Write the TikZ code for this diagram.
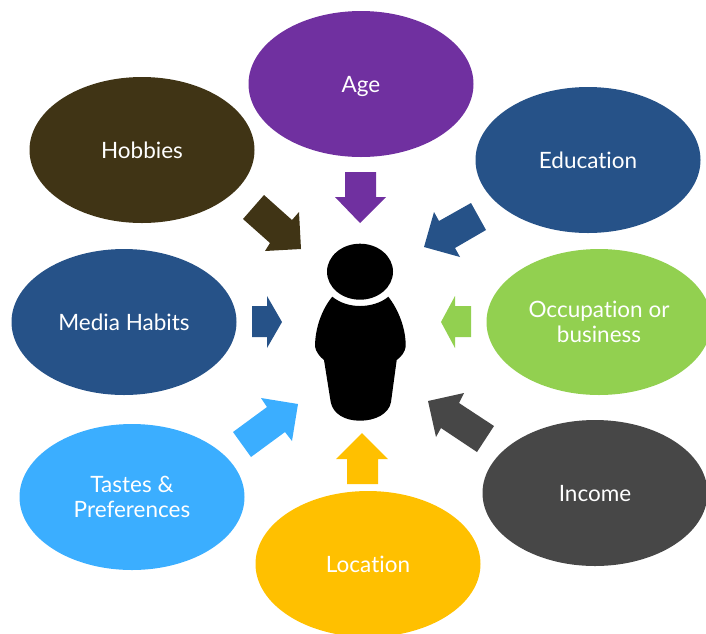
\documentclass[tikz,border=0pt]{standalone}
\usepackage{fontspec}
\setmainfont{Lato}[Ligatures=NoCommon]
\usetikzlibrary{shapes.geometric}
\definecolor{cAge}{HTML}{7030A0}
\definecolor{cHob}{HTML}{403415}
\definecolor{cBlue}{HTML}{265288}
\definecolor{cGreen}{HTML}{92D050}
\definecolor{cGray}{HTML}{474747}
\definecolor{cCyan}{HTML}{3BAEFF}
\definecolor{cYellow}{HTML}{FFC000}
\newcommand{\lbltext}[1]{\raisebox{-8pt}[0pt][0pt]{#1}}
\tikzset{
  blob/.style={ellipse,minimum width=225pt,minimum height=146pt,inner sep=0pt,text=white,align=center,font=\fontsize{22.5}{25}\selectfont},
  blockarrow/.style={draw=none}
}
\begin{document}
\begin{tikzpicture}[x=1pt,y=-1pt]
\useasboundingbox (0,0) rectangle (706,633);
\begin{scope}
\clip (0,0) rectangle (706,633);
\node[blob,fill=cAge] (age) at (361,84) {\lbltext{Age}};
\node[blob,fill=cHob] (hobbies) at (142,150) {\lbltext{Hobbies}};
\node[blob,fill=cBlue] (education) at (588,160) {\lbltext{Education}};
\node[blob,fill=cBlue] (media) at (124,322) {\lbltext{Media Habits}};
\node[blob,fill=cGreen] (occupation) at (599,322) {Occupation or\\business};
\node[blob,fill=cCyan] (tastes) at (132,497) {\raisebox{-1pt}{Tastes \&}\\\raisebox{-1pt}{Preferences}};
\node[blob,fill=cGray] (income) at (595,493) {\lbltext{Income}};
\node[blob,fill=cYellow] (location) at (368,564) {\lbltext{Location}};
\end{scope}
% block arrows
\fill[cAge,blockarrow] (345,172)--(376,172)--(376,197)--(386,197)--(360,223)--(335,197)--(345,197)--cycle;
\fill[cHob,blockarrow] (264,195)--(292,220)--(299,212)--(301,249)--(265,251)--(270,243)--(243,219)--cycle;
\fill[cBlue,blockarrow] (471,203)--(439,221)--(434,212)--(424,247)--(460,257)--(455,248)--(486,230)--cycle;
\fill[cBlue,blockarrow] (252,306)--(267,306)--(267,296)--(282,322)--(267,348)--(267,337)--(252,337)--cycle;
\fill[cGreen,blockarrow] (471,306)--(455,306)--(455,296)--(441,322)--(455,348)--(455,337)--(471,337)--cycle;
\fill[cCyan,blockarrow] (233,432)--(267,407)--(261,398)--(298,404)--(292,441)--(285,432)--(251,457)--cycle;
\fill[cGray,blockarrow] (494,426)--(459,403)--(464,393)--(428,401)--(436,437)--(441,428)--(477,452)--cycle;
\fill[cYellow,blockarrow] (347,484)--(378,484)--(378,459)--(388,459)--(362,433)--(336,459)--(347,459)--cycle;
% person
\fill[black] (360,271.7) ellipse [x radius=33,y radius=28];
\fill[black] (332.3,296.7)
  .. controls (340,303) and (350,306) .. (360,306)
  .. controls (370,306) and (381,303) .. (388.3,296.7)
  .. controls (398,309) and (406,328) .. (405.7,346.7)
  .. controls (405,352) and (401,357) .. (396.7,360)
  -- (391,402)
  .. controls (389,414) and (375,420.7) .. (360,420.7)
  .. controls (345,420.7) and (333,414) .. (330.7,402)
  -- (324,360)
  .. controls (320,357) and (316,352) .. (315,346.7)
  .. controls (315,328) and (322,309) .. (332.3,296.7)
  -- cycle;
\end{tikzpicture}
\end{document}
